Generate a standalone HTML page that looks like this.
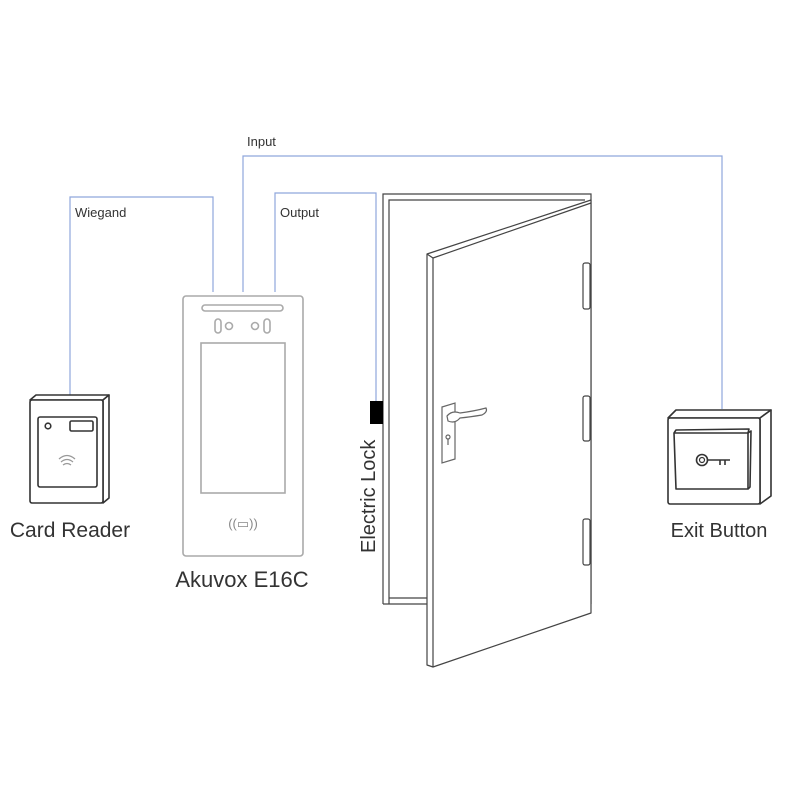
<!DOCTYPE html>
<html><head><meta charset="utf-8"><style>
html,body{margin:0;padding:0;background:#fff;}
svg{display:block;}
text{font-family:"Liberation Sans",sans-serif;fill:#333;}
</style></head><body>
<svg width="800" height="800" viewBox="0 0 800 800" xmlns="http://www.w3.org/2000/svg">
<rect width="800" height="800" fill="#fff"/>
<!-- wires -->
<g fill="none" stroke="#8fa6dc" stroke-width="1.2">
<polyline points="70,395 70,197 213,197 213,292"/>
<polyline points="243,292 243,156 722,156 722,409"/>
<polyline points="275,292 275,193 376,193 376,401"/>
</g>
<text x="247" y="146" font-size="13">Input</text>
<text x="75" y="217" font-size="13">Wiegand</text>
<text x="280" y="217" font-size="13">Output</text>

<!-- card reader -->
<g fill="none" stroke="#333" stroke-width="1.6" stroke-linejoin="round">
<path d="M30,400 L36,395 L109,395 L103,400 Z" fill="#fff"/>
<path d="M103,400 L109,395 L109,498 L103,503 Z" fill="#fff"/>
<rect x="30" y="400" width="73" height="103" rx="2" fill="#fff"/>
<rect x="38" y="417" width="59" height="70" rx="2"/>
<circle cx="48" cy="426" r="2.8"/>
<rect x="70" y="421" width="23" height="10" rx="1.5"/>
</g>
<g fill="none" stroke="#999" stroke-width="1.3">
<path d="M59,459 Q67,452 75,459"/><path d="M61,462 Q67,457 73,462"/><path d="M63,465 Q67,462 71,465"/>
</g>
<text x="70" y="537" font-size="21" text-anchor="middle">Card Reader</text>

<!-- E16C -->
<g fill="none" stroke="#aaa" stroke-width="1.6">
<rect x="183" y="296" width="120" height="260" rx="3"/>
<rect x="202" y="305" width="81" height="6" rx="3"/>
<rect x="215" y="319" width="6" height="14" rx="3"/>
<circle cx="229" cy="326" r="3.5"/>
<circle cx="255" cy="326" r="3.5"/>
<rect x="264" y="319" width="6" height="14" rx="3"/>
<rect x="201" y="343" width="84" height="150"/>
</g>
<text x="243" y="528" font-size="13" text-anchor="middle" fill="#888" style="fill:#888">((▭))</text>
<text x="242" y="587" font-size="22" text-anchor="middle">Akuvox E16C</text>

<!-- door frame -->
<g fill="none" stroke="#444" stroke-width="1.2">
<path d="M383,604 L383,194 L591,194 L591,604"/>
<path d="M389,604 L389,200 L585,200"/>
<line x1="383" y1="604" x2="430" y2="604"/>
<line x1="389" y1="598" x2="430" y2="598"/>
</g>
<!-- door leaf -->
<g stroke="#444" stroke-width="1.2" stroke-linejoin="round">
<path d="M427,254 L591,200 L591,613 L433,667 L427,665 Z" fill="#fff"/>
<line x1="433" y1="258" x2="433" y2="667" fill="none"/>
<path d="M427,254 L433,258 L591,203" fill="none"/>
<rect x="583" y="263" width="7" height="46" rx="2" fill="#fff"/>
<rect x="583" y="396" width="7" height="45" rx="2" fill="#fff"/>
<rect x="583" y="519" width="7" height="46" rx="2" fill="#fff"/>
</g>
<!-- handle -->
<g fill="none" stroke="#666" stroke-width="1.2">
<path d="M442,407 L455,403 L455,459 L442,463 Z" fill="#fff"/>
<path d="M447,416 Q452,410 460,413 Q475,411 486,408 Q488,412 482,415 Q470,417 460,418 Q455,424 448,421 Z" fill="#fff"/>
<circle cx="448" cy="437" r="2"/>
<line x1="448" y1="439" x2="448" y2="445"/>
</g>
<!-- lock -->
<rect x="370" y="401" width="13" height="23" fill="#000"/>
<text transform="translate(375,553) rotate(-90)" font-size="20">Electric Lock</text>

<!-- exit button -->
<g fill="none" stroke="#333" stroke-width="1.6" stroke-linejoin="round">
<path d="M668,418 L676,410 L771,410 L760,418 Z" fill="#fff"/>
<path d="M760,418 L771,410 L771,496 L760,504 Z" fill="#fff"/>
<rect x="668" y="418" width="92" height="86" rx="2" fill="#fff"/>
<path d="M674,433 L748,433 L748,489 L676,489 Z"/>
<path d="M674,433 L676,430 L749,429 L748,433"/>
<path d="M748,433 L751,431 L750,487 L748,489"/>
<circle cx="702" cy="460" r="5.5"/>
<circle cx="702" cy="460" r="2.5" stroke-width="1.2"/>
<path d="M707.5,460 L730,460 M720,460 L720,465 M725,460 L725,465"/>
</g>
<text x="719" y="537" font-size="20" text-anchor="middle">Exit Button</text>
</svg>
</body></html>
